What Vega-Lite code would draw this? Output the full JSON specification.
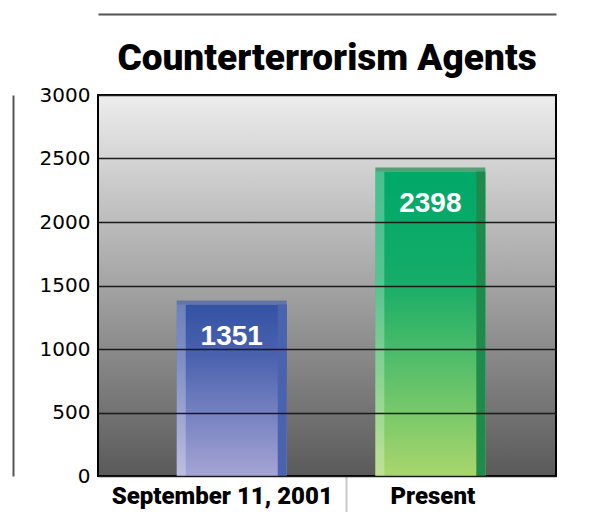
{
  "$schema": "https://vega.github.io/schema/vega-lite/v6.json",
  "autosize": "none",
  "width": 458,
  "height": 381,
  "padding": {"left": 98, "top": 95, "right": 57, "bottom": 36},
  "background": "white",
  "title": {
    "text": "Counterterrorism Agents",
    "font": "Roboto",
    "fontSize": 37,
    "fontWeight": 900,
    "color": "#000000",
    "anchor": "middle",
    "baseline": "alphabetic",
    "offset": -93
  },
  "data": {
    "values": [
      {"period": "September 11, 2001", "agents": 1351},
      {"period": "Present", "agents": 2398}
    ]
  },
  "resolve": {"axis": {"x": "independent", "y": "independent"}},
  "layer": [
    {
      "transform": [{"filter": "datum.period === 'September 11, 2001'"}],
      "mark": {
        "type": "bar",
        "color": {
          "gradient": "linear", "x1": 0, "y1": 0, "x2": 0, "y2": 1,
          "stops": [
            {"offset": 0, "color": "#3453a4"},
            {"offset": 0.3, "color": "#4a62ae"},
            {"offset": 1, "color": "#a5a4d5"}
          ]
        }
      },
      "encoding": {
        "x": {
          "field": "period", "type": "nominal", "sort": null,
          "scale": {"domain": ["September 11, 2001", "Present"], "paddingInner": 0.446, "paddingOuter": 0.376, "align": 0.527},
          "axis": {
            "orient": "bottom",
            "title": null,
            "domain": false,
            "grid": false,
            "ticks": true,
            "tickSize": 36,
            "tickWidth": 2,
            "tickColor": "#c8c8c8",
            "tickOffset": 114,
            "tickOpacity": {"condition": {"test": "datum.value === 'Present'", "value": 0}, "value": 1},
            "labelPadding": -28,
            "labelOffset": {"condition": {"test": "datum.value === 'Present'", "value": -112}, "value": -124},
            "labelLimit": 400,
            "labelFont": "Roboto",
            "labelFontSize": 24,
            "labelFontWeight": 900,
            "labelColor": "#000000",
            "labelAngle": 0
          }
        },
        "y": {
          "field": "agents", "type": "quantitative",
          "scale": {"domain": [0, 3000], "nice": false},
          "axis": {
            "orient": "left",
            "title": null,
            "values": [0, 500, 1000, 1500, 2000, 2500, 3000],
            "format": "d",
            "domain": false,
            "ticks": false,
            "grid": true,
            "gridColor": "#1a1a1a",
            "gridWidth": 1.5,
            "labelFont": "DejaVu Sans",
            "labelFontSize": 20,
            "labelColor": "#000000",
            "labelPadding": 8,
            "labelFlush": false,
            "labelOverlap": false,
            "zindex": 1
          }
        }
      }
    },
    {
      "transform": [{"filter": "datum.period === 'Present'"}],
      "mark": {
        "type": "bar",
        "color": {
          "gradient": "linear", "x1": 0, "y1": 0, "x2": 0, "y2": 1,
          "stops": [
            {"offset": 0, "color": "#00a869"},
            {"offset": 0.35, "color": "#14ac68"},
            {"offset": 1, "color": "#a9d66c"}
          ]
        }
      },
      "encoding": {
        "x": {"field": "period", "type": "nominal", "sort": null, "axis": null},
        "y": {"field": "agents", "type": "quantitative", "axis": null}
      }
    },
    {
      "mark": {"type": "bar", "width": 9, "xOffset": -50.5, "color": "#ffffff", "opacity": 0.28},
      "encoding": {
        "x": {"field": "period", "type": "nominal", "sort": null, "axis": null},
        "y": {"field": "agents", "type": "quantitative", "axis": null}
      }
    },
    {
      "mark": {"type": "bar", "width": 9, "xOffset": 50.5},
      "encoding": {
        "x": {"field": "period", "type": "nominal", "sort": null, "axis": null},
        "y": {"field": "agents", "type": "quantitative", "axis": null},
        "color": {
          "field": "period", "type": "nominal", "legend": null,
          "scale": {"domain": ["September 11, 2001", "Present"], "range": ["#4a63ae", "#1f8a4c"]}
        }
      }
    },
    {
      "mark": {"type": "tick", "thickness": 4, "size": 110, "yOffset": -2},
      "encoding": {
        "x": {
          "field": "period", "type": "nominal", "sort": null,
          "axis": {"orient": "top", "offset": 81, "domain": true, "domainColor": "#555555", "domainWidth": 2, "labels": false, "ticks": false, "grid": false, "title": null}
        },
        "y": {
          "field": "agents", "type": "quantitative",
          "axis": {"orient": "left", "offset": 85, "domain": true, "domainColor": "#555555", "domainWidth": 2, "labels": false, "ticks": false, "grid": false, "title": null}
        },
        "color": {
          "field": "period", "type": "nominal", "legend": null,
          "scale": {"domain": ["September 11, 2001", "Present"], "range": ["#8a98d6", "#b7dc7a"]}
        }
      }
    },
    {
      "mark": {"type": "text", "dy": 41, "baseline": "alphabetic", "align": "center", "font": "Liberation Sans", "fontSize": 28, "fontWeight": "bold", "color": "#ffffff"},
      "encoding": {
        "x": {"field": "period", "type": "nominal", "sort": null, "axis": null},
        "y": {"field": "agents", "type": "quantitative", "axis": null},
        "text": {"field": "agents", "type": "quantitative", "format": "d"}
      }
    }
  ],
  "config": {
    "view": {
      "stroke": "#000000",
      "strokeWidth": 2,
      "fill": {
        "gradient": "linear", "x1": 0, "y1": 0, "x2": 0, "y2": 1,
        "stops": [
          {"offset": 0, "color": "#ededed"},
          {"offset": 1, "color": "#5a5a5a"}
        ]
      }
    }
  }
}
